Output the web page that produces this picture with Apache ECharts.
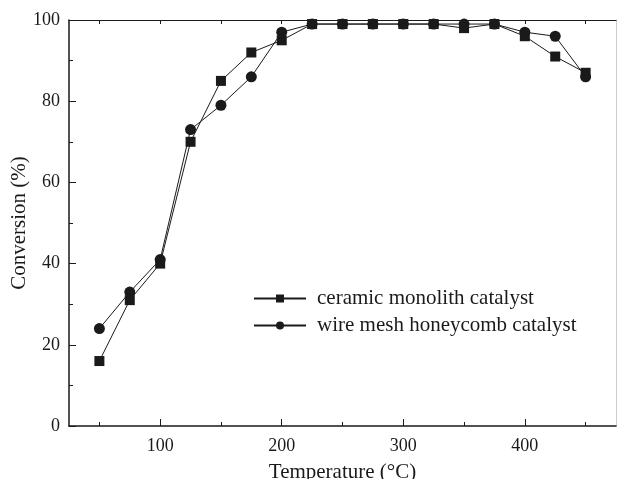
<!DOCTYPE html>
<html>
<head>
<meta charset="utf-8">
<script src="https://cdn.jsdelivr.net/npm/echarts@6/dist/echarts.min.js"></script>
<style>
html, body { margin: 0; padding: 0; background: #fff; }
#main { width: 617px; height: 479px; }
</style>
</head>
<body>
<div id="main"></div>
<script>
// data
var temps = [50, 75, 100, 125, 150, 175, 200, 225, 250, 275, 300, 325, 350, 375, 400, 425, 450];
var ceramic = [16, 31, 40, 70, 85, 92, 95, 99, 99, 99, 99, 99, 98, 99, 96, 91, 87];
var wireMesh = [24, 33, 41, 73, 79, 86, 97, 99, 99, 99, 99, 99, 99, 99, 97, 96, 86];
var majorX = [100, 200, 300, 400];
var minorX = [50, 150, 250, 350, 450];
var allX = [50, 100, 150, 200, 250, 300, 350, 400, 450];

var font = 'Liberation Serif';
var ink = '#1a1a1a';

function pairs(xs, ys) {
    return xs.map(function (x, i) { return [x, ys[i]]; });
}

var myChart = echarts.init(document.getElementById('main'));

var option = {
    backgroundColor: '#fff',
    animation: false,
    grid: { left: 69, right: 1, top: 20, bottom: 53, containLabel: false, outerBoundsMode: 'none' },
    legend: {
        orient: 'vertical',
        left: 248,
        top: 283,
        itemWidth: 52,
        itemHeight: 10,
        itemGap: 6,
        textStyle: { fontFamily: font, fontSize: 21, color: ink, padding: [0, 0, 0, 6] },
        data: ['ceramic monolith catalyst', 'wire mesh honeycomb catalyst']
    },
    xAxis: [
        {
            type: 'value', position: 'bottom', min: 25, max: 475,
            name: 'Temperature (°C)', nameLocation: 'middle', nameGap: 36, nameMoveOverlap: false,
            nameTextStyle: { fontFamily: font, fontSize: 21, color: ink },
            axisLine: { lineStyle: { color: ink, width: 1.5 } },
            axisTick: { inside: true, length: 7, customValues: majorX, lineStyle: { color: ink } },
            axisLabel: { customValues: majorX, fontFamily: font, fontSize: 18, color: ink, margin: 11 },
            splitLine: { show: false }
        },
        {
            type: 'value', position: 'bottom', min: 25, max: 475,
            axisLine: { show: false },
            axisTick: { inside: true, length: 4, customValues: minorX, lineStyle: { color: ink } },
            axisLabel: { show: false },
            splitLine: { show: false }
        },
        {
            type: 'value', position: 'top', min: 25, max: 475,
            axisLine: { lineStyle: { color: ink, width: 1.2 } },
            axisTick: { inside: true, length: 4, customValues: allX, lineStyle: { color: ink } },
            axisLabel: { show: false },
            splitLine: { show: false }
        }
    ],
    yAxis: [
        {
            type: 'value', position: 'left', min: 0, max: 100, interval: 20,
            name: 'Conversion (%)', nameLocation: 'middle', nameGap: 39, nameMoveOverlap: false,
            nameTextStyle: { fontFamily: font, fontSize: 21, color: ink },
            axisLine: { lineStyle: { color: ink, width: 1.5 } },
            axisTick: { inside: true, length: 7, lineStyle: { color: ink } },
            minorTick: { show: true, splitNumber: 2, length: 4, lineStyle: { color: ink } },
            axisLabel: { fontFamily: font, fontSize: 18, color: ink, margin: 9 },
            splitLine: { show: false }
        },
        {
            type: 'value', position: 'right', min: 0, max: 100, interval: 20,
            axisLine: { show: true, lineStyle: { color: '#cccccc', width: 1 } },
            axisTick: { show: false },
            axisLabel: { show: false },
            splitLine: { show: false }
        }
    ],
    series: [
        {
            name: 'ceramic monolith catalyst',
            type: 'line',
            data: pairs(temps, ceramic),
            symbol: 'rect',
            symbolSize: 10,
            itemStyle: { color: ink },
            lineStyle: { color: ink, width: 1 }
        },
        {
            name: 'wire mesh honeycomb catalyst',
            type: 'line',
            data: pairs(temps, wireMesh),
            symbol: 'circle',
            symbolSize: 11,
            itemStyle: { color: ink },
            lineStyle: { color: ink, width: 1 }
        }
    ]
};

myChart.setOption(option);
window.onresize = myChart.resize;
</script>
</body>
</html>
